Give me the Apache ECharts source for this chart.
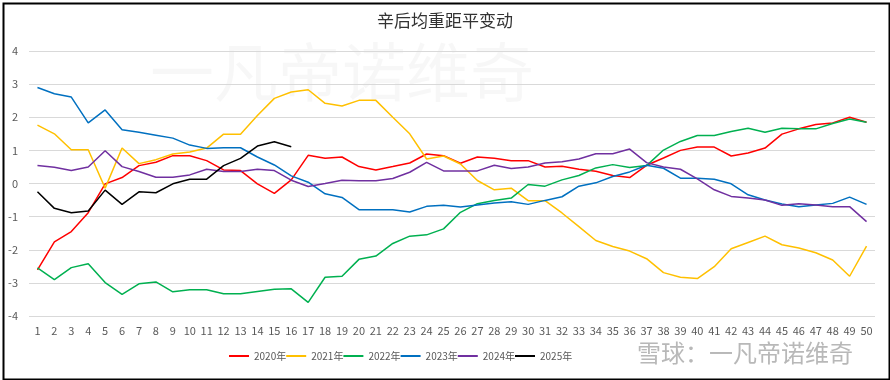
<!DOCTYPE html>
<html><head><meta charset="utf-8">
<script src="https://cdn.jsdelivr.net/npm/echarts@6/dist/echarts.min.js"></script>
<style>html,body{margin:0;padding:0;background:#fff}#c{width:890px;height:380px}</style>
</head><body><div id="c"></div>
<script>
var categories = [];
for (var i = 1; i <= 50; i++) categories.push(String(i));
var yTicks = [-4, -3, -2, -1, 0, 1, 2, 3, 4];
var seriesNames = ['2020年','2021年','2022年','2023年','2024年','2025年'];
var s2020 = [-2.61,-1.76,-1.45,-0.88,-0.01,0.18,0.54,0.64,0.84,0.84,0.69,0.41,0.39,-0.01,-0.30,0.11,0.85,0.76,0.80,0.51,0.41,0.51,0.62,0.89,0.84,0.61,0.80,0.76,0.69,0.69,0.50,0.52,0.43,0.37,0.24,0.18,0.55,0.77,1.00,1.10,1.10,0.83,0.92,1.07,1.49,1.65,1.78,1.83,2.00,1.85];
var s2021 = [1.76,1.50,1.02,1.02,-0.14,1.07,0.60,0.72,0.89,0.95,1.07,1.49,1.49,2.05,2.57,2.76,2.83,2.42,2.34,2.51,2.51,2.00,1.50,0.74,0.83,0.59,0.09,-0.19,-0.14,-0.52,-0.52,-0.89,-1.30,-1.72,-1.90,-2.04,-2.27,-2.69,-2.83,-2.87,-2.51,-1.97,-1.78,-1.59,-1.85,-1.95,-2.09,-2.31,-2.80,-1.89];
var s2022 = [-2.55,-2.90,-2.54,-2.42,-2.99,-3.35,-3.03,-2.97,-3.27,-3.21,-3.21,-3.33,-3.33,-3.26,-3.19,-3.18,-3.59,-2.83,-2.80,-2.29,-2.19,-1.81,-1.59,-1.55,-1.37,-0.87,-0.61,-0.51,-0.44,-0.03,-0.08,0.11,0.24,0.47,0.57,0.48,0.54,1.01,1.27,1.45,1.45,1.57,1.67,1.55,1.67,1.65,1.65,1.81,1.95,1.85];
var s2023 = [2.90,2.71,2.61,1.83,2.22,1.62,1.55,1.46,1.37,1.16,1.06,1.08,1.08,0.80,0.56,0.23,0.04,-0.31,-0.42,-0.79,-0.79,-0.79,-0.86,-0.69,-0.66,-0.71,-0.65,-0.59,-0.55,-0.63,-0.51,-0.40,-0.08,0.02,0.21,0.35,0.55,0.46,0.16,0.16,0.13,-0.01,-0.34,-0.50,-0.62,-0.70,-0.65,-0.60,-0.41,-0.63];
var s2024 = [0.54,0.49,0.39,0.50,0.99,0.51,0.36,0.19,0.19,0.26,0.43,0.36,0.36,0.43,0.39,0.10,-0.09,0.00,0.10,0.08,0.08,0.15,0.34,0.64,0.38,0.38,0.38,0.55,0.45,0.50,0.62,0.66,0.74,0.90,0.90,1.04,0.63,0.50,0.43,0.14,-0.19,-0.39,-0.44,-0.50,-0.66,-0.61,-0.65,-0.70,-0.70,-1.15];
var s2025 = [-0.25,-0.75,-0.88,-0.83,-0.20,-0.63,-0.25,-0.28,-0.01,0.13,0.13,0.54,0.76,1.13,1.26,1.11];
var colors = ['#ff0000','#ffc000','#00b050','#0070c0','#7030a0','#000000'];
var allData = [s2020,s2021,s2022,s2023,s2024,s2025];

var font = '"Microsoft YaHei","Noto Sans CJK SC",sans-serif';
var chart = echarts.init(document.getElementById('c'));
chart.setOption({
  animation: false,
  title: {text: '辛后均重距平变动', left: 'center', top: 7,
    textStyle: {fontFamily: font, fontSize: 17, fontWeight: 'normal', color: '#333333'}},
  graphic: [
    {type: 'rect', left: 1, top: 1, shape: {width: 886, height: 376}, style: {fill: 'none', stroke: '#000', lineWidth: 2}, z: 100},
    {type: 'text', left: 150, top: 40, z: 0, style: {text: '一凡帝诺维奇', font: '64px ' + font, fill: 'rgba(0,0,0,0.03)'}},
    {type: 'text', left: 637, top: 341, z: 100, style: {text: '雪球：一凡帝诺维奇', font: '24px ' + font, fill: 'rgba(160,160,160,0.75)'}}
  ],
  legend: {bottom: 14, left: 224, itemWidth: 20, itemHeight: 2, itemGap: 0, icon: 'rect',
    textStyle: {fontFamily: font, fontSize: 10, color: '#595959'}, data: seriesNames},
  grid: {left: 29, right: 15, top: 51, bottom: 64},
  xAxis: {type: 'category', data: categories, boundaryGap: true,
    axisLine: {show: false}, axisTick: {show: false},
    axisLabel: {interval: 0, color: '#595959', fontSize: 11, fontFamily: font, margin: 9},
    splitLine: {show: false}},
  yAxis: {type: 'value', min: yTicks[0], max: yTicks[yTicks.length-1], interval: 1,
    axisLine: {show: false}, axisTick: {show: false},
    axisLabel: {color: '#595959', fontSize: 11, fontFamily: font, margin: 11},
    splitLine: {lineStyle: {color: '#d9d9d9', width: 1}}},
  series: allData.map(function(d, k){
    return {name: seriesNames[k], type: 'line', data: d, symbol: 'none',
      lineStyle: {color: colors[k], width: 1.5}, itemStyle: {color: colors[k]}};
  })
});
</script></body></html>
